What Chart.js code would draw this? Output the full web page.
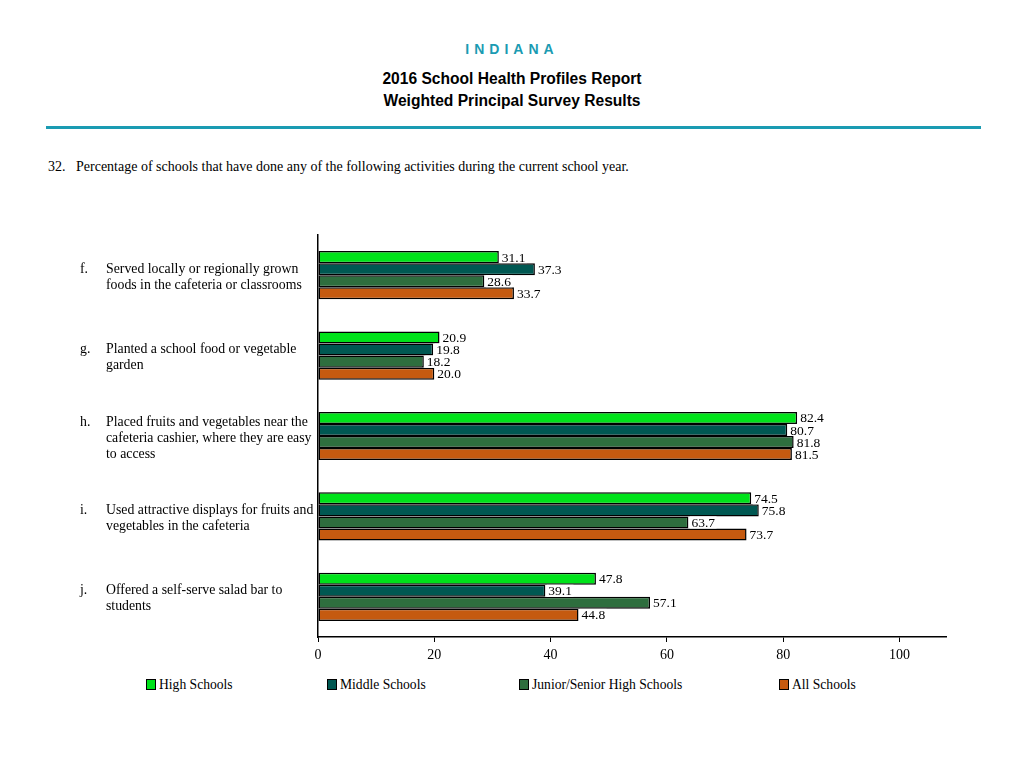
<!DOCTYPE html>
<html>
<head>
<meta charset="utf-8">
<script src="https://cdn.jsdelivr.net/npm/chart.js@4.4.0/dist/chart.umd.min.js"></script>
<style>
  body { margin: 0; background: #fff; width: 1024px; height: 768px; position: relative; overflow: hidden; }
  .state { position: absolute; top: 41px; left: 0; width: 1024px; text-align: center; font: bold 14px "Liberation Sans", Arial, sans-serif; color: #1a9bb2; letter-spacing: 5px; }
  .title { position: absolute; left: 0; width: 1024px; text-align: center; font: bold 15.6px "Liberation Sans", Arial, sans-serif; color: #000; }
  .rule { position: absolute; top: 126px; left: 46px; width: 935px; height: 3px; background: #1a9bb2; }
  .question { position: absolute; top: 159px; left: 48px; font: 14px "Liberation Serif", "Times New Roman", serif; color: #000; }
  #chartOne { position: absolute; top: 220px; left: 0; }
  .legend-item { position: absolute; top: 677px; font: 13.6px "Liberation Serif", serif; color: #000; white-space: nowrap; }
  .legend-item span.box { display: inline-block; width: 8px; height: 9px; border: 1px solid #000; margin-right: 3px; vertical-align: -1px; }
</style>
</head>
<body>
<div class="state">INDIANA</div>
<div class="title" style="top:70px">2016 School Health Profiles Report</div>
<div class="title" style="top:92px">Weighted Principal Survey Results</div>
<div class="rule"></div>
<div class="question">32.&nbsp;&nbsp;&nbsp;Percentage of schools that have done any of the following activities during the current school year.</div>
<canvas id="chartOne" width="1024" height="450"></canvas>
<div id="legend"></div>
<script>
// categories (letter + wrapped text lines)
var letters = ['f.', 'g.', 'h.', 'i.', 'j.'];
var categories = [
    ['Served locally or regionally grown', 'foods in the cafeteria or classrooms'],
    ['Planted a school food or vegetable', 'garden'],
    ['Placed fruits and vegetables near the', 'cafeteria cashier, where they are easy', 'to access'],
    ['Used attractive displays for fruits and', 'vegetables in the cafeteria'],
    ['Offered a self-serve salad bar to', 'students']
];
var seriesNames = ['High Schools', 'Middle Schools', 'Junior/Senior High Schools', 'All Schools'];
var highSchools = [31.1, 20.9, 82.4, 74.5, 47.8];
var middleSchools = [37.3, 19.8, 80.7, 75.8, 39.1];
var juniorSenior = [28.6, 18.2, 81.8, 63.7, 57.1];
var allSchools = [33.7, 20.0, 81.5, 73.7, 44.8];
var xTicks = [0, 20, 40, 60, 80, 100];

var colors = ['#00e31a', '#005852', '#2e6e3e', '#c55a10'];
var legendX = [146, 327, 519, 779];
var serif = '"Liberation Serif", "Times New Roman", serif';

var chartOne = document.getElementById('chartOne');

// category labels on the left, drawn next to each bar group
const categoryLabels = {
    id: 'categoryLabels',
    afterDraw: (chart) => {
        var ctx = chart.ctx;
        var y = chart.scales.y;
        ctx.save();
        ctx.font = '13.8px ' + serif;
        ctx.fillStyle = '#000';
        ctx.textBaseline = 'middle';
        ctx.textAlign = 'left';
        categories.forEach((lines, i) => {
            var cy = y.getPixelForTick(i);
            var top = cy - (lines.length - 1) * 16 / 2 + 2;
            ctx.fillText(letters[i], 80, top);
            lines.forEach((l, j) => {
                ctx.fillText(l, 106, top + j * 16);
            });
        });
        ctx.restore();
    }
};

// value labels at bar ends, on a white box
const valueLabels = {
    id: 'valueLabels',
    afterDatasetsDraw: (chart) => {
        var ctx = chart.ctx;
        ctx.save();
        ctx.font = '13.5px ' + serif;
        ctx.textBaseline = 'middle';
        ctx.textAlign = 'left';
        chart.data.datasets.forEach((ds, di) => {
            chart.getDatasetMeta(di).data.forEach((bar, i) => {
                var txt = ds.data[i].toFixed(1);
                var w = ctx.measureText(txt).width;
                ctx.fillStyle = '#fff';
                ctx.fillRect(bar.x + 1.5, bar.y - 6, w + 3, 12);
                ctx.fillStyle = '#000';
                ctx.fillText(txt, bar.x + 3, bar.y + 1);
            });
        });
        ctx.restore();
    }
};

var seriesData = [highSchools, middleSchools, juniorSenior, allSchools];

var myChart = new Chart(chartOne, {
    type: 'bar',
    data: {
        labels: categories,
        datasets: seriesData.map((d, i) => ({
            label: seriesNames[i],
            data: d,
            backgroundColor: colors[i],
            borderColor: '#000',
            borderWidth: 1.5,
            borderSkipped: false,
            barPercentage: 1,
            categoryPercentage: 0.6
        }))
    },
    options: {
        indexAxis: 'y',
        responsive: false,
        animation: false,
        layout: { padding: { top: 15, right: 78, left: 0, bottom: 0 } },
        plugins: {
            legend: { display: false },
            tooltip: { enabled: false }
        },
        scales: {
            x: {
                min: 0,
                max: 108,
                afterBuildTicks: (scale) => {
                    scale.ticks = xTicks.map(v => ({ value: v }));
                },
                afterFit: (scale) => { scale.height = 33; },
                grid: { display: true, drawOnChartArea: false, drawTicks: true, tickLength: 5, color: '#000' },
                border: { display: true, color: '#000', width: 1.5 },
                ticks: { color: '#000', font: { family: serif, size: 14 }, padding: 5, maxRotation: 0 }
            },
            y: {
                afterFit: (scale) => { scale.width = 318; },
                grid: { display: false },
                border: { display: true, color: '#000', width: 1.5 },
                ticks: { display: false }
            }
        }
    },
    plugins: [categoryLabels, valueLabels]
});

// legend
var legend = document.getElementById('legend');
myChart.data.datasets.forEach((ds, i) => {
    var item = document.createElement('div');
    item.className = 'legend-item';
    item.style.left = legendX[i] + 'px';
    var box = document.createElement('span');
    box.className = 'box';
    box.style.background = ds.backgroundColor;
    item.appendChild(box);
    item.appendChild(document.createTextNode(ds.label));
    legend.appendChild(item);
});
</script>
</body>
</html>
